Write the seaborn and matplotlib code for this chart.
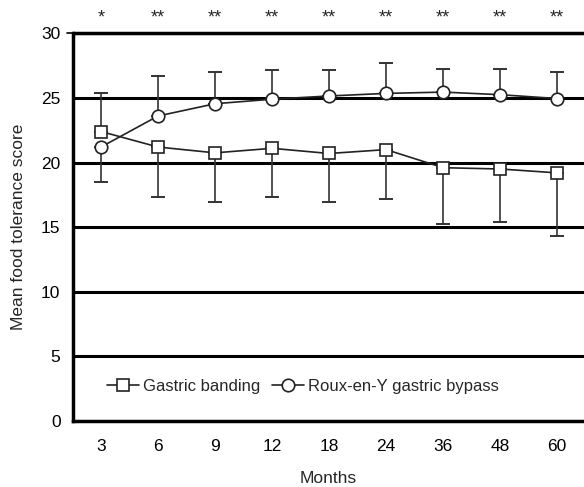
import matplotlib
matplotlib.use("Agg")
import matplotlib.pyplot as plt
import seaborn as sns
import pandas as pd
import numpy as np

months = ["3", "6", "9", "12", "18", "24", "36", "48", "60"]
banding_mean = [22.4, 21.2, 20.75, 21.1, 20.7, 21.0, 19.6, 19.5, 19.2]
banding_err = [3.0, 3.9, 3.8, 3.75, 3.75, 3.85, 4.35, 4.1, 4.9]
bypass_mean = [21.2, 23.6, 24.55, 24.9, 25.15, 25.35, 25.45, 25.25, 24.95]
bypass_err = [2.7, 3.1, 2.45, 2.25, 2.0, 2.35, 1.75, 1.95, 2.05]
significance = ["*", "**", "**", "**", "**", "**", "**", "**", "**"]
yticks = [0, 5, 10, 15, 20, 25, 30]

sns.set_theme(style="white")
plt.rcParams["font.family"] = ["Liberation Sans", "DejaVu Sans"]

fig = plt.figure(figsize=(5.84, 4.87), dpi=100)
ax = fig.add_axes([73 / 584, 66 / 487, 1 - 73 / 584, (421 - 33.3) / 487])

pos = np.arange(len(months))
df = pd.DataFrame({
    "pos": np.concatenate([pos, pos]),
    "score": banding_mean + bypass_mean,
    "group": ["Gastric banding"] * len(months) + ["Roux-en-Y gastric bypass"] * len(months),
})

# gridlines
for yv in yticks[1:]:
    ax.axhline(yv, color="black", lw=2.2, zorder=1)

# one-sided error bars: upper for the higher series, lower for the other
ekw = dict(color="#333333", lw=1.2, capsize=5, capthick=1.4, zorder=2)
for i in range(len(months)):
    bm, bs = banding_mean[i], banding_err[i]
    rm, rs = bypass_mean[i], bypass_err[i]
    if bm > rm:
        ax.errorbar(pos[i], bm, yerr=[[0], [bs]], **ekw)
        ax.errorbar(pos[i], rm, yerr=[[rs], [0]], **ekw)
    else:
        ax.errorbar(pos[i], rm, yerr=[[0], [rs]], **ekw)
        ax.errorbar(pos[i], bm, yerr=[[bs], [0]], **ekw)

sns.lineplot(data=df, x="pos", y="score", hue="group", style="group",
             markers={"Gastric banding": "s", "Roux-en-Y gastric bypass": "o"},
             dashes=False, palette={"Gastric banding": "#222222", "Roux-en-Y gastric bypass": "#222222"},
             markersize=9, markerfacecolor="white", markeredgecolor="#222222", markeredgewidth=1.2,
             lw=1.2, ax=ax, zorder=3)

ax.set_xlim(-0.491, 8.47)
ax.set_ylim(0, 30)
ax.set_xticks(pos)
ax.set_xticklabels(months)
ax.set_yticks(yticks)
ax.tick_params(axis="both", labelsize=12.5, colors="black", length=0)
ax.tick_params(axis="x", pad=13)
ax.tick_params(axis="y", pad=9)
ax.plot([-0.6, -0.491], [30, 30], color="black", lw=1.2, clip_on=False)

for s in ["top", "right"]:
    ax.spines[s].set_visible(False)
ax.axhline(30, color="black", lw=2.5, zorder=1, clip_on=False)
for s in ["left", "bottom"]:
    ax.spines[s].set_linewidth(2.5)
    ax.spines[s].set_color("black")

ax.set_xlabel("Months", fontsize=12.5, labelpad=12)
ax.set_ylabel("Mean food tolerance score", fontsize=12.5, labelpad=11)

for i, s in enumerate(significance):
    ax.text(pos[i], 31.2, s, ha="center", va="center", fontsize=13)

leg = ax.legend(loc="center", bbox_to_anchor=(0.45, 0.09), ncol=2, frameon=False,
                fontsize=12, handlelength=1.9, handletextpad=0.25, columnspacing=0.7, title=None)

fig.savefig("out.png", dpi=100)
